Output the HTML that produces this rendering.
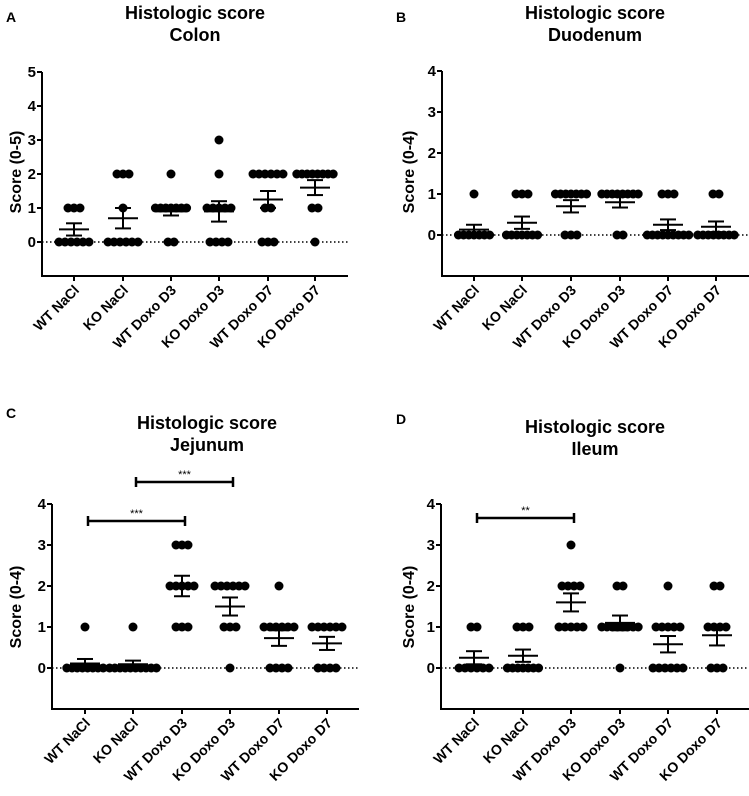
<!DOCTYPE html>
<html><head><meta charset="utf-8">
<style>
html,body{margin:0;padding:0;background:#fff;}
svg{display:block;font-family:"Liberation Sans",Arial,sans-serif;font-weight:bold;}
</style></head>
<body>
<svg id="fig" width="749" height="796" viewBox="0 0 749 796" xmlns="http://www.w3.org/2000/svg"></svg>
<script>
// ---- data ----
const categories = ["WT NaCl","KO NaCl","WT Doxo D3","KO Doxo D3","WT Doxo D7","KO Doxo D7"];
// Per-group point counts at each score level: [score, count]
const colonPoints = [[[1,3],[0,6]],[[2,3],[1,1],[0,6]],[[2,1],[1,7],[0,2]],[[3,1],[2,1],[1,5],[0,4]],[[2,6],[1,2],[0,3]],[[2,8],[1,2],[0,1]]];
const colonMeans = [0.37,0.7,0.9,0.9,1.25,1.6];
const colonSEM = [0.18,0.3,0.12,0.3,0.25,0.22];
const duodPoints = [[[1,1],[0,7]],[[1,3],[0,7]],[[1,7],[0,3]],[[1,8],[0,2]],[[1,3],[0,9]],[[1,2],[0,8]]];
const duodMeans = [0.13,0.3,0.7,0.8,0.25,0.2];
const duodSEM = [0.12,0.15,0.15,0.13,0.13,0.13];
const jejPoints = [[[1,1],[0,8]],[[1,1],[0,10]],[[3,3],[2,5],[1,3]],[[2,6],[1,3],[0,1]],[[2,1],[1,6],[0,4]],[[1,6],[0,4]]];
const jejMeans = [0.11,0.09,2.0,1.5,0.73,0.6];
const jejSEM = [0.11,0.09,0.25,0.22,0.19,0.16];
const ilPoints = [[[1,2],[0,6]],[[1,3],[0,7]],[[3,1],[2,4],[1,5]],[[2,2],[1,8],[0,1]],[[2,1],[1,5],[0,6]],[[2,2],[1,4],[0,3]]];
const ilMeans = [0.25,0.3,1.6,1.1,0.58,0.8];
const ilSEM = [0.16,0.15,0.22,0.18,0.2,0.25];
const colonTicks = [0,1,2,3,4,5];
const smallTicks = [0,1,2,3,4];

const NS="http://www.w3.org/2000/svg";
const svg=document.getElementById('fig');
function mk(tag,attrs,parent){const e=document.createElementNS(NS,tag);for(const k in attrs)e.setAttribute(k,attrs[k]);(parent||svg).appendChild(e);return e;}

function panel(cfg){
  const g=mk('g',{});
  
  
  const ymin=-1,ymax=cfg.ymax;
  const y=v=>cfg.y0-(v)*cfg.unit;
  const x=i=>cfg.x0s[i];
  const yBottom=y(ymin);
  const L=mk('text',{x:cfg.lx,y:cfg.ly,'font-size':14,fill:'#000'},g);L.textContent=cfg.letter;
  
  
  const t1=mk('text',{x:cfg.tx,y:cfg.ty,'font-size':18,'text-anchor':'middle'},g);t1.textContent='Histologic score';
  
  
  const t2=mk('text',{x:cfg.tx,y:cfg.ty+22,'font-size':18,'text-anchor':'middle'},g);t2.textContent=cfg.sub;
  
  
  const yt=mk('text',{x:0,y:0,'font-size':16,'text-anchor':'middle',transform:`translate(${cfg.ytx},${cfg.yty}) rotate(-90)`},g);yt.textContent=cfg.ylabel;
  
  
  const ya=mk('line',{x1:cfg.ax,y1:y(ymax),x2:cfg.ax,y2:yBottom+1,stroke:'#000','stroke-width':2},g);
  
  
  const xa=mk('line',{x1:cfg.ax-1,y1:yBottom,x2:cfg.axEnd,y2:yBottom,stroke:'#000','stroke-width':2},g);
  
  
  cfg.ticks.forEach(v=>{
    mk('line',{x1:cfg.ax-5,y1:y(v),x2:cfg.ax,y2:y(v),stroke:'#000','stroke-width':2},g);
    const tl=mk('text',{x:cfg.ax-6,y:y(v)+5,'font-size':15,'text-anchor':'end'},g);tl.textContent=v;
    
    
  });
  const zl=mk('line',{x1:cfg.ax,y1:y(0),x2:cfg.axEnd,y2:y(0),stroke:'#000','stroke-width':1.5,'stroke-dasharray':'1.5 2.5'},g);
  
  
  categories.forEach((c,i)=>{
    mk('line',{x1:x(i),y1:yBottom,x2:x(i),y2:yBottom+5,stroke:'#000','stroke-width':2},g);
    const xl=mk('text',{x:0,y:0,'font-size':14,'text-anchor':'end',transform:`translate(${x(i)+6},${yBottom+15}) rotate(-45)`},g);xl.textContent=c;
    
    
    cfg.points[i].forEach(([v,n])=>{
      const sp=n>6?5.2:6;
      for(let k=0;k<n;k++){
        const dx=(k-(n-1)/2)*sp;
        const d=mk('circle',{cx:x(i)+dx,cy:y(v),r:4.5,fill:'#000'},g);
        
        
      }
    });
    const m=cfg.means[i],s=cfg.sem[i];
    const eg=mk('g',{stroke:'#000','stroke-width':2},g);
    
    
    mk('line',{x1:x(i)-15,y1:y(m),x2:x(i)+15,y2:y(m)},eg);
    mk('line',{x1:x(i),y1:y(m+s),x2:x(i),y2:y(m-s)},eg);
    mk('line',{x1:x(i)-8,y1:y(m+s),x2:x(i)+8,y2:y(m+s)},eg);
    mk('line',{x1:x(i)-8,y1:y(m-s),x2:x(i)+8,y2:y(m-s)},eg);
  });
  (cfg.sig||[]).forEach(sg=>{
    const bg=mk('g',{stroke:'#000','stroke-width':2.5},g);
    
    
    const x1=x(sg.a)+3,x2=x(sg.b)+3;
    mk('line',{x1:x1,y1:sg.y,x2:x2,y2:sg.y},bg);
    mk('line',{x1:x1,y1:sg.y-5,x2:x1,y2:sg.y+5},bg);
    mk('line',{x1:x2,y1:sg.y-5,x2:x2,y2:sg.y+5},bg);
    const st=mk('text',{x:(x1+x2)/2,y:sg.y-4,'font-size':11,'font-weight':'normal','text-anchor':'middle'},g);st.textContent=sg.label;
    
    
  });
}

panel({letter:'A',lx:6,ly:22,tx:195,ty:19,sub:'Colon',ytx:21,yty:172,ylabel:'Score (0-5)',
  ax:42,axEnd:348,y0:242,unit:34,ymax:5,ticks:colonTicks,x0s:[74,123,171,219,268,315],
  points:colonPoints,means:colonMeans,sem:colonSEM});
panel({letter:'B',lx:396,ly:22,tx:595,ty:19,sub:'Duodenum',ytx:414,yty:172,ylabel:'Score (0-4)',
  ax:442,axEnd:749,y0:235,unit:41,ymax:4,ticks:smallTicks,x0s:[474,522,571,620,668,716],
  points:duodPoints,means:duodMeans,sem:duodSEM});
panel({letter:'C',lx:6,ly:418,tx:207,ty:429,sub:'Jejunum',ytx:21,yty:607,ylabel:'Score (0-4)',
  ax:52,axEnd:359,y0:668,unit:41,ymax:4,ticks:smallTicks,x0s:[85,133,182,230,279,327],
  points:jejPoints,means:jejMeans,sem:jejSEM,
  sig:[{a:0,b:2,y:521,label:'***'},{a:1,b:3,y:482,label:'***'}]});
panel({letter:'D',lx:396,ly:424,tx:595,ty:433,sub:'Ileum',ytx:414,yty:607,ylabel:'Score (0-4)',
  ax:441,axEnd:749,y0:668,unit:41,ymax:4,ticks:smallTicks,x0s:[474,523,571,620,668,717],
  points:ilPoints,means:ilMeans,sem:ilSEM,
  sig:[{a:0,b:2,y:518,label:'**'}]});
</script>
</body></html>
